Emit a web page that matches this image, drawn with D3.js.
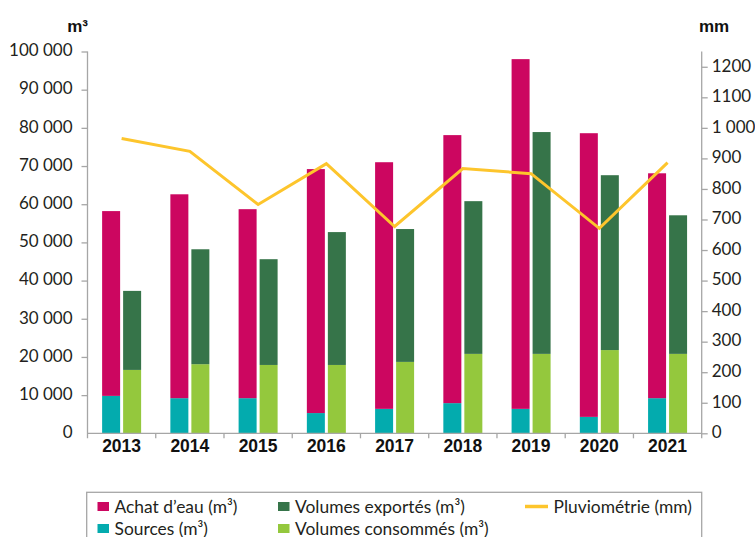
<!DOCTYPE html>
<html>
<head>
<meta charset="utf-8">
<script src="https://cdn.jsdelivr.net/npm/d3@7"></script>
<style>
  body { margin: 0; background: #fff; }
  svg { display: block; }
</style>
</head>
<body>
<svg id="chart" width="755" height="537"></svg>
<script>
// values
const years = ["2013", "2014", "2015", "2016", "2017", "2018", "2019", "2020", "2021"];
const sources = [9800, 9200, 9200, 5300, 6400, 7900, 6400, 4300, 9200];
const achat = [48400, 53400, 49500, 63900, 64600, 70200, 91600, 74300, 58900];
const consommes = [16600, 18100, 17900, 17900, 18700, 20800, 20800, 21800, 20800];
const exportes = [20700, 30100, 27700, 34800, 34800, 40000, 58100, 45800, 36300];
const pluvio = [965, 923, 749, 883, 677, 867, 850, 671, 886];

const leftTicks = [0, 10000, 20000, 30000, 40000, 50000, 60000, 70000, 80000, 90000, 100000];
const leftTickLabels = ["0", "10\u202F000", "20\u202F000", "30\u202F000", "40\u202F000", "50\u202F000",
  "60\u202F000", "70\u202F000", "80\u202F000", "90\u202F000", "100\u202F000"];
const rightTicks = [0, 100, 200, 300, 400, 500, 600, 700, 800, 900, 1000, 1100, 1200];
const rightTickLabels = ["0", "100", "200", "300", "400", "500", "600", "700", "800", "900", "1\u202F000", "1100", "1200"];

const colors = {
    sources: "#03abae",
    achat: "#cc0660",
    consommes: "#94c83d",
    exportes: "#367449",
    pluvio: "#fdc52c"
};

const svg = d3.select("#chart");
const margin = { left: 87.5, right: 701.7, top: 51.5, bottom: 433.3 };
const tickFont = "Lato, 'Open Sans', sans-serif";
const textColor = "#231f20";
const axisColor = "#a6a6a6";

let xScale = d3.scaleBand()
    .domain(years)
    .range([margin.left, margin.right]);

let yLeft = d3.scaleLinear()
    .domain([0, 100000])
    .range([margin.bottom, margin.top]);

let yRight = d3.scaleLinear()
    .domain([0, 1250])
    .range([margin.bottom, margin.top]);

const barWidth = 18;
const barGap = 3;

// build the two stacks per year
let rows = years.map(function(y, i) {
    return { year: y, sources: sources[i], achat: achat[i], consommes: consommes[i], exportes: exportes[i] };
});
let stackA = d3.stack().keys(["sources", "achat"])(rows);
let stackB = d3.stack().keys(["consommes", "exportes"])(rows);

// first column: sources + achat
svg.append("g").selectAll("g")
    .data(stackA)
    .enter()
    .append("g")
    .attr("fill", function(d) { return colors[d.key]; })
    .selectAll("rect")
    .data(function(d) { return d; })
    .enter()
    .append("rect")
    .attr("x", function(d) { return xScale(d.data.year) + xScale.bandwidth() / 2 - barGap / 2 - barWidth; })
    .attr("y", function(d) { return yLeft(d[1]); })
    .attr("height", function(d) { return yLeft(d[0]) - yLeft(d[1]); })
    .attr("width", barWidth);

// second column: consommés + exportés
svg.append("g").selectAll("g")
    .data(stackB)
    .enter()
    .append("g")
    .attr("fill", function(d) { return colors[d.key]; })
    .selectAll("rect")
    .data(function(d) { return d; })
    .enter()
    .append("rect")
    .attr("x", function(d) { return xScale(d.data.year) + xScale.bandwidth() / 2 + barGap / 2; })
    .attr("y", function(d) { return yLeft(d[1]); })
    .attr("height", function(d) { return yLeft(d[0]) - yLeft(d[1]); })
    .attr("width", barWidth);

// rainfall line
let line = d3.line()
    .x(function(d, i) { return xScale(years[i]) + xScale.bandwidth() / 2; })
    .y(function(d) { return yRight(d); });

svg.append("path")
    .datum(pluvio)
    .attr("d", line)
    .attr("fill", "none")
    .attr("stroke", colors.pluvio)
    .attr("stroke-width", 3)
    .attr("stroke-linejoin", "miter");

// left axis
let leftAxis = svg.append("g")
    .attr("transform", "translate(" + margin.left + ",0)")
    .call(d3.axisLeft(yLeft).tickValues(leftTicks).tickSize(6).tickPadding(9)
        .tickFormat(function(d, i) { return leftTickLabels[i]; }));

// right axis
let rightAxis = svg.append("g")
    .attr("transform", "translate(" + margin.right + ",0)")
    .call(d3.axisRight(yRight).tickValues(rightTicks).tickSize(6).tickPadding(4)
        .tickFormat(function(d, i) { return rightTickLabels[i]; }));

for (let ax of [leftAxis, rightAxis]) {
    ax.select(".domain").attr("stroke", axisColor).attr("stroke-width", 1.3)
        .attr("d", "M0," + (margin.bottom + 5) + "V" + margin.top);
    ax.selectAll(".tick line").attr("stroke", axisColor).attr("stroke-width", 1.3);
    ax.selectAll(".tick text")
        .attr("dy", "0.25em")
        .style("font-family", tickFont)
        .style("font-size", "17px")
        .style("fill", textColor);
}
leftAxis.select(".tick line").attr("x2", 0);

// x axis with ticks on category boundaries
let xAxis = svg.append("g")
    .attr("transform", "translate(0," + margin.bottom + ")");
xAxis.append("line")
    .attr("x1", margin.left)
    .attr("x2", margin.right)
    .attr("stroke", axisColor)
    .attr("stroke-width", 1.3);
xAxis.selectAll(".bound")
    .data(years.slice(1))
    .enter()
    .append("line")
    .attr("x1", function(d) { return xScale(d); })
    .attr("x2", function(d) { return xScale(d); })
    .attr("y1", 0)
    .attr("y2", 5)
    .attr("stroke", axisColor)
    .attr("stroke-width", 1.3);
xAxis.selectAll(".yearLabel")
    .data(years)
    .enter()
    .append("text")
    .attr("x", function(d) { return xScale(d) + xScale.bandwidth() / 2; })
    .attr("y", 19)
    .text(function(d) { return d; })
    .style("font-family", "'Liberation Sans', Arial, sans-serif")
    .style("font-weight", "bold")
    .style("font-size", "17.5px")
    .style("text-anchor", "middle")
    .style("fill", "#111");

// unit labels
svg.append("text")
    .attr("x", 88)
    .attr("y", 31.5)
    .text("m³")
    .style("font-family", "'Liberation Sans', Arial, sans-serif")
    .style("font-weight", "bold")
    .style("font-size", "17px")
    .style("text-anchor", "end")
    .style("fill", "#111");
svg.append("text")
    .attr("x", 699)
    .attr("y", 31.5)
    .text("mm")
    .style("font-family", "'Liberation Sans', Arial, sans-serif")
    .style("font-weight", "bold")
    .style("font-size", "17px")
    .style("fill", "#111");

// legend
let legendItems = [
    { label: "Achat d’eau (m³)", color: colors.achat, type: "rect", col: 0, row: 0 },
    { label: "Sources (m³)", color: colors.sources, type: "rect", col: 0, row: 1 },
    { label: "Volumes exportés (m³)", color: colors.exportes, type: "rect", col: 1, row: 0 },
    { label: "Volumes consommés (m³)", color: colors.consommes, type: "rect", col: 1, row: 1 },
    { label: "Pluviométrie (mm)", color: colors.pluvio, type: "line", col: 2, row: 0 }
];
let legendCols = [97.5, 278, 525];
let legendRows = [506.5, 528.5];

svg.append("rect")
    .attr("x", 86.7)
    .attr("y", 492.3)
    .attr("width", 701.7 - 86.7)
    .attr("height", 60)
    .attr("fill", "none")
    .attr("stroke", "#a6a6a6")
    .attr("stroke-width", 1.3);

let legend = svg.selectAll(".legendItem")
    .data(legendItems)
    .enter()
    .append("g")
    .attr("transform", function(d) {
        return "translate(" + legendCols[d.col] + "," + legendRows[d.row] + ")";
    });
legend.filter(function(d) { return d.type === "rect"; })
    .append("rect")
    .attr("x", 0)
    .attr("y", -4.5)
    .attr("width", 11.5)
    .attr("height", 9)
    .attr("fill", function(d) { return d.color; });
legend.filter(function(d) { return d.type === "line"; })
    .append("line")
    .attr("x1", 0)
    .attr("x2", 23)
    .attr("stroke", function(d) { return d.color; })
    .attr("stroke-width", 3.5);
legend.append("text")
    .attr("x", function(d) { return d.type === "line" ? 28.5 : 17; })
    .attr("y", 6)
    .text(function(d) { return d.label; })
    .style("font-family", tickFont)
    .style("font-size", "17.4px")
    .style("fill", textColor);
</script>
</body>
</html>
